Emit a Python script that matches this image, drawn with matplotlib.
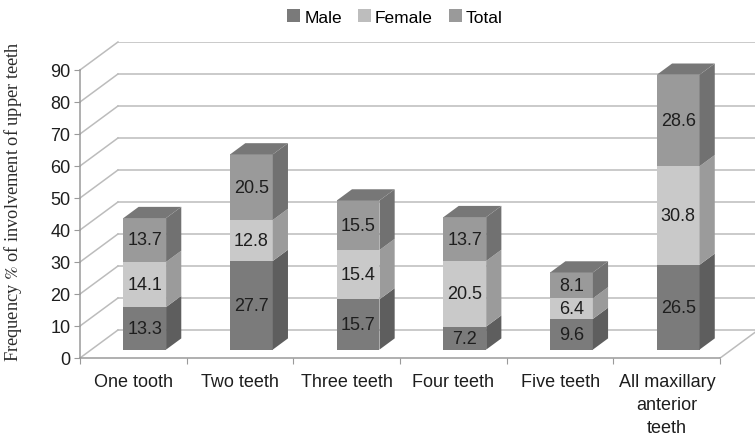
import numpy as np
import matplotlib
matplotlib.use("Agg")
import matplotlib.pyplot as plt
from matplotlib.patches import Polygon, Patch

# data
categories = ["One tooth", "Two teeth", "Three teeth", "Four teeth",
              "Five teeth", "All maxillary\nanterior\nteeth"]
series_names = ["Male", "Female", "Total"]
male = [13.3, 27.7, 15.7, 7.2, 9.6, 26.5]
female = [14.1, 12.8, 15.4, 20.5, 6.4, 30.8]
total = [13.7, 20.5, 15.5, 13.7, 8.1, 28.6]
y_ticks = list(range(0, 100, 10))

# greys for the fake 3D faces: front, side, top
front_colors = ["#7b7b7b", "#c9c9c9", "#9a9a9a"]
side_colors = ["#5e5e5e", "#9b9b9b", "#717171"]
top_colors = ["#6c6c6c", "#a9a9a9", "#777777"]
legend_colors = ["#7a7a7a", "#bdbdbd", "#9a9a9a"]
grid_color = "#bcbcbc"

# depth of the chart box (x in categories, y in value units)
DX, DY = 0.356, 8.75
FRONT, BACK = 0.30, 0.70   # bar depth position as fraction of box depth
BAR_W = 0.40

plt.rcParams["font.family"] = ["Liberation Sans", "DejaVu Sans"]
plt.rcParams["mathtext.fontset"] = "stix"

fig = plt.figure(figsize=(7.55, 4.39), dpi=100)
ax = fig.add_axes([80 / 755, 80 / 439, 675.4 / 755, 316.3 / 439])
ax.set_xlim(0, 6.33)
ax.set_ylim(0, 98.84)

# walls: back-wall gridlines plus the diagonals on the left wall
for t in y_ticks:
    ax.plot([0, DX], [t, t + DY], color=grid_color, lw=1.1, zorder=1, clip_on=False)
    ax.plot([DX, 7], [t + DY, t + DY], color=grid_color, lw=1.1, zorder=1)
# right edge of the floor
ax.plot([6, 6 + DX], [0, DY], color=grid_color, lw=1.1, zorder=1)

x = np.arange(len(categories))
stack = np.array([male, female, total])
bottoms = np.vstack([np.zeros(len(categories)), np.cumsum(stack, axis=0)[:-1]])
xc = x + 0.5 + FRONT * DX
base = FRONT * DY
ddx, ddy = (BACK - FRONT) * DX, (BACK - FRONT) * DY

for i, name in enumerate(series_names):
    vals = stack[i]
    bots = bottoms[i] + base
    ax.bar(xc, vals, width=BAR_W, bottom=bots, color=front_colors[i],
           edgecolor="none", zorder=3)
    for j in range(len(categories)):
        xr = xc[j] + BAR_W / 2
        xl = xc[j] - BAR_W / 2
        b0, b1 = bots[j], bots[j] + vals[j]
        ax.add_patch(Polygon([(xr, b0), (xr + ddx, b0 + ddy), (xr + ddx, b1 + ddy), (xr, b1)],
                             closed=True, facecolor=side_colors[i], edgecolor="none", zorder=3))
        if i == len(series_names) - 1:
            ax.add_patch(Polygon([(xl, b1), (xr, b1), (xr + ddx, b1 + ddy), (xl + ddx, b1 + ddy)],
                                 closed=True, facecolor=top_colors[i], edgecolor="none", zorder=3))
        ax.text(xc[j], b0 + vals[j] / 2, f"{vals[j]:.1f}", ha="center", va="center",
                fontsize=13, color="#1e1e1e", zorder=4)

# axes lines and ticks
for s in ["top", "right"]:
    ax.spines[s].set_visible(False)
ax.spines["left"].set_bounds(0, 90)
ax.spines["bottom"].set_bounds(0, 6)
for s in ["left", "bottom"]:
    ax.spines[s].set_color("#9a9a9a")
    ax.spines[s].set_linewidth(1.1)
ax.set_yticks(y_ticks)
ax.tick_params(axis="y", length=4, color="#9a9a9a", labelsize=13, pad=3, labelcolor="#1e1e1e")
ax.set_xticks(np.arange(0, 7))
ax.set_xticklabels([])
ax.set_xticks(x + 0.5, minor=True)
ax.set_xticklabels(categories, minor=True)
for lbl in ax.get_xticklabels(minor=True):
    lbl.set_linespacing(1.45)
ax.tick_params(axis="x", which="major", length=4, color="#9a9a9a")
ax.tick_params(axis="x", which="minor", length=0, labelsize=13, pad=11, labelcolor="#1e1e1e")

fig.text(13 / 755, 1 - 202 / 439, r"Frequency $\mathit{\%}$ of involvement of upper teeth",
         rotation=90, ha="center", va="center", fontsize=13.2,
         family=["Liberation Serif", "DejaVu Serif"], color="#2a2a2a")

handles = [Patch(facecolor=c, edgecolor="none") for c in legend_colors]
fig.legend(handles, series_names, loc="center", bbox_to_anchor=(395 / 755, 1 - 18 / 439),
           ncol=3, frameon=False, fontsize=12.5, handlelength=0.75, handleheight=0.75,
           handletextpad=0.25, columnspacing=0.9)

fig.savefig("out.png", dpi=100)
